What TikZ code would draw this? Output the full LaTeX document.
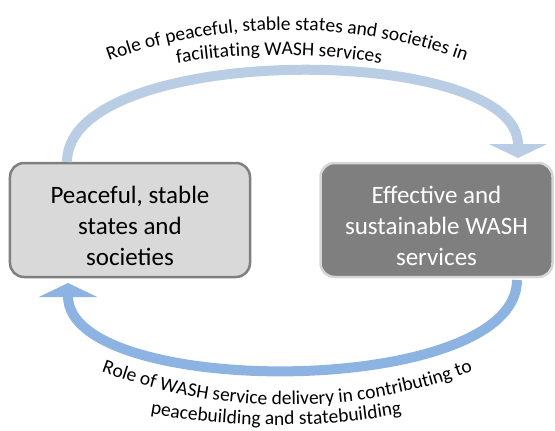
\documentclass[tikz,border=0pt]{standalone}
\usepackage{fontspec}
\setmainfont{Carlito}
\usetikzlibrary{arrows.meta,decorations.text}
\definecolor{arrowtop}{HTML}{B9CDE5}
\definecolor{arrowbot}{HTML}{8DB3E2}
\definecolor{lightbox}{HTML}{D9D9D9}
\definecolor{darkbox}{HTML}{7F7F7F}
\definecolor{darkedge}{HTML}{7F7F7F}
\definecolor{lightedge}{HTML}{D6D6D6}
\tikzset{
  x=1bp, y=1bp,
  boxbase/.style={rectangle, rounded corners=14bp, line width=2.5bp, inner sep=0pt},
  leftbox/.style={boxbase, draw=darkedge, fill=lightbox, minimum width=240bp, minimum height=114bp},
  rightbox/.style={boxbase, draw=lightedge, fill=darkbox, minimum width=232bp, minimum height=114bp},
  boxtext/.style={align=center, inner sep=0pt, font=\fontsize{25bp}{31bp}\selectfont},
  bigarrow/.style={line width=10bp, -{Triangle[width=58bp,length=14bp]}},
  curvedtext/.style={decorate, decoration={text along path, text align=center, text={#1}}}
}
\begin{document}
\begin{tikzpicture}
\useasboundingbox (0,0) rectangle (555,430);
% boxes
\node[leftbox] (lb) at (130,210) {};
\node[rightbox] (rb) at (436.5,210) {};
\node[boxtext, text=black] (lt) at (130,204.5) {Peaceful, stable\\states and\\societies};
\node[boxtext, text=white] (rt) at (436.5,204.5) {Effective and\\sustainable WASH\\services};
% arrow end points
\coordinate (ts) at (67,268);
\coordinate (te) at (518,272);
\coordinate (bs) at (517,150);
\coordinate (be) at (68,147);
\draw[bigarrow, draw=arrowtop] (ts) .. controls (67,388) and (518,388) .. (te);
\draw[bigarrow, draw=arrowbot] (bs) .. controls (517,31) and (68,31) .. (be);
% curved labels
\path[curvedtext={|\fontsize{19.5bp}{23bp}\selectfont|Role of peaceful, stable states and societies in}]
  ([shift={(287,-130)}]116:530) arc[start angle=116, end angle=64, radius=530];
\path[curvedtext={|\fontsize{19.5bp}{23bp}\selectfont|facilitating WASH services}]
  ([shift={(279,-265)}]104:640) arc[start angle=104, end angle=76, radius=640];
\path[curvedtext={|\fontsize{19.5bp}{23bp}\selectfont|Role of WASH service delivery in contributing to}]
  ([shift={(287,555)}]244:530) arc[start angle=244, end angle=296, radius=530];
\path[curvedtext={|\fontsize{19.5bp}{23bp}\selectfont|peacebuilding and statebuilding}]
  ([shift={(276,715)}]258:710) arc[start angle=258, end angle=282, radius=710];
\end{tikzpicture}
\end{document}
